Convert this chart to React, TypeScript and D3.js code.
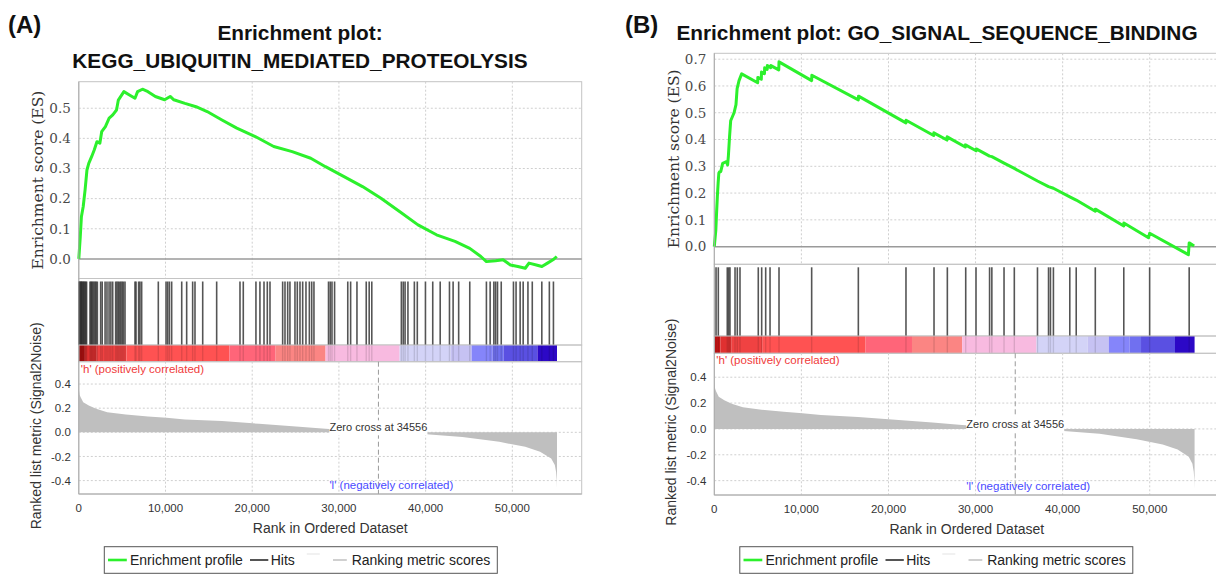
import React from "react";
import * as d3 from "d3";

// ---- shared ranked list (same dataset in both panels) ----
const rankMax = 58000;
const zeroCross = 34556;
const xTicks = [0, 10000, 20000, 30000, 40000, 50000];
const metricTicks = [-0.4, -0.2, 0, 0.2, 0.4];

const metricRanks = [0, 100, 213, 512, 1150, 2000, 3280, 5420, 7980, 10110, 12240, 16510, 20780, 25040, 28450, 31000, 34556, 37000, 40100, 44240, 48500, 51490, 53200, 54480, 54900, 55050, 55120, 55150];
const metricValues = [0.36, 0.31, 0.29, 0.249, 0.222, 0.195, 0.167, 0.148, 0.132, 0.121, 0.107, 0.093, 0.071, 0.049, 0.03, 0.018, 0, -0.008, -0.016, -0.038, -0.079, -0.12, -0.16, -0.216, -0.27, -0.33, -0.39, -0.46];

// colour bar blocks along the ranked list
const colorBreaks = [0, 700, 2000, 5500, 17370, 22700, 28460, 37000, 42880, 45300, 47700, 49000, 52900, 55150];
const colorFills = ["#c41414", "#e03030", "#f04242", "#ff5252", "#ff6579", "#fb8583", "#f8bae0", "#d3d3f7", "#c6c2f3", "#8585fa", "#7070f0", "#5a50e2", "#2c08c6"];

// ---- panel A: KEGG_UBIQUITIN_MEDIATED_PROTEOLYSIS ----
const esTicksA = [0, 0.1, 0.2, 0.3, 0.4, 0.5];
const hitsA = [0, 60, 130, 200, 280, 350, 430, 520, 600, 700, 800, 900, 1290, 1400, 1500, 1620, 1750, 1880, 2000, 2140, 2520, 2700, 3030, 3250, 3490, 3700, 3910, 4250, 4400, 4550, 4700, 4850, 5000, 5150, 5330, 6480, 6600, 6900, 7050, 7250, 9170, 10060, 10250, 10450, 10710, 11870, 12440, 13130, 13400, 14290, 15900, 18590, 18970, 20430, 20890, 21360, 21740, 22050, 23510, 23780, 24090, 24350, 24930, 25200, 25510, 25820, 26200, 26590, 26860, 27120, 28800, 29000, 29200, 29500, 31020, 31350, 32080, 33150, 33490, 33790, 37200, 37420, 37630, 37960, 38700, 39040, 39980, 40820, 41680, 42750, 43170, 43810, 45090, 47010, 47440, 47870, 48070, 48290, 48720, 50130, 50430, 50900, 51250, 51800, 52300, 53400, 54270, 54740];
const esRanksA = [0, 170, 300, 510, 725, 940, 1150, 1490, 1790, 2090, 2430, 2640, 3070, 3500, 3920, 4350, 4560, 5200, 5840, 6480, 6780, 7340, 7980, 8830, 9900, 10540, 10960, 12240, 13520, 14800, 16510, 18220, 20350, 22480, 24610, 26750, 28450, 30590, 32720, 34850, 36990, 39120, 41250, 43390, 45090, 46370, 47010, 48080, 48930, 49780, 50640, 51490, 51920, 52770, 53410, 54050, 54690, 55120];
const esValuesA = [0, 0.074, 0.14, 0.174, 0.229, 0.295, 0.317, 0.34, 0.362, 0.389, 0.384, 0.422, 0.439, 0.467, 0.478, 0.494, 0.527, 0.555, 0.544, 0.533, 0.555, 0.563, 0.555, 0.539, 0.528, 0.539, 0.528, 0.516, 0.505, 0.489, 0.461, 0.434, 0.406, 0.373, 0.356, 0.334, 0.306, 0.273, 0.24, 0.201, 0.157, 0.113, 0.08, 0.058, 0.035, 0.008, -0.009, -0.006, -0.003, -0.02, -0.025, -0.031, -0.014, -0.02, -0.025, -0.014, -0.003, 0.008];

// ---- panel B: GO_SIGNAL_SEQUENCE_BINDING ----
const esTicksB = [0, 0.1, 0.2, 0.3, 0.4, 0.5, 0.6, 0.7];
const hitsB = [200, 460, 1490, 1650, 1800, 2380, 2640, 2950, 5050, 5440, 5900, 6400, 7430, 11180, 16540, 22010, 25230, 26760, 28870, 30050, 31610, 31870, 33270, 34450, 37110, 38380, 38600, 38940, 40820, 41560, 43750, 47020, 49990, 54530];
const esRanksB = [0, 175, 260, 350, 440, 520, 610, 740, 960, 1400, 1530, 1620, 1750, 1880, 2270, 2490, 2620, 2840, 3140, 4980, 5000, 5400, 5420, 5760, 5780, 6070, 6090, 6480, 6500, 7400, 7430, 11180, 11200, 16540, 16560, 22000, 22020, 25190, 25210, 26720, 26740, 28820, 28840, 30060, 30080, 31610, 31870, 33270, 34450, 37110, 38380, 38940, 40820, 41560, 43750, 43760, 47020, 47030, 49860, 49990, 54440, 54530, 55100];
const esValuesB = [0, 0.062, 0.125, 0.187, 0.237, 0.274, 0.28, 0.28, 0.311, 0.318, 0.305, 0.34, 0.41, 0.47, 0.5, 0.53, 0.59, 0.62, 0.645, 0.612, 0.632, 0.625, 0.652, 0.646, 0.668, 0.662, 0.676, 0.668, 0.676, 0.66, 0.69, 0.62, 0.64, 0.548, 0.562, 0.462, 0.472, 0.415, 0.425, 0.398, 0.41, 0.372, 0.38, 0.358, 0.365, 0.338, 0.336, 0.312, 0.292, 0.245, 0.224, 0.218, 0.186, 0.174, 0.132, 0.14, 0.077, 0.088, 0.033, 0.05, -0.03, 0.014, 0.002];

const SANS = "'Liberation Sans', Arial, sans-serif";
const SERIF = "'DejaVu Serif', serif";
const GREEN = "#2cf02c";

type Layout = {
  tag: string;
  tagX: number;
  titleX: number;
  titleLines: string[];
  titleY: number[];
  left: number;
  right: number;
  esTop: number;
  esBottom: number;
  hitsBottom: number;
  barBottom: number;
  rankBottom: number;
  esDomain: [number, number];
  esTicks: number[];
  hits: number[];
  esRanks: number[];
  esValues: number[];
};

function Panel({ p }: { p: Layout }) {
  const x = d3.scaleLinear().domain([0, rankMax]).range([p.left, p.right]);
  const yEs = d3.scaleLinear().domain(p.esDomain).range([p.esBottom, p.esTop]);
  const yM = d3.scaleLinear().domain([-0.511, 0.585]).range([p.rankBottom, p.barBottom]);
  const w = p.right - p.left;

  const esLine = d3
    .line<number>()
    .x((_, i) => x(p.esRanks[i]))
    .y((v) => yEs(v));

  const metricArea = d3
    .area<number>()
    .x((_, i) => x(metricRanks[i]))
    .y0(yM(0))
    .y1((v) => yM(v));

  const zx = x(zeroCross);
  const zeroLabelW = 98;
  const grid = "#cfcfcf";
  const border = "#c4c4c4";

  return (
    <g>
      <text x={p.tagX} y={33} fontFamily={SANS} fontWeight="bold" fontSize={24} fill="#111">
        {p.tag}
      </text>
      {p.titleLines.map((t, i) => (
        <text key={t} x={p.titleX} y={p.titleY[i]} textAnchor="middle" fontFamily={SANS} fontWeight="bold" fontSize={20.8} fill="#111">
          {t}
        </text>
      ))}

      {/* enrichment score panel */}
      <rect x={p.left} y={p.esTop} width={w} height={p.esBottom - p.esTop} fill="#fff" stroke={border} />
      {xTicks.slice(1).map((t) => (
        <line key={"gx" + t} x1={x(t)} x2={x(t)} y1={p.esTop} y2={p.esBottom} stroke={grid} strokeDasharray="2,2" />
      ))}
      {p.esTicks.slice(1).map((t) => (
        <line key={"gy" + t} x1={p.left} x2={p.right} y1={yEs(t)} y2={yEs(t)} stroke={grid} strokeDasharray="2,2" />
      ))}
      <line x1={p.left} x2={p.right} y1={yEs(0)} y2={yEs(0)} stroke="#9a9a9a" strokeWidth={1.5} />
      {p.esTicks.map((t) => (
        <text key={"ty" + t} x={p.left - 8} y={yEs(t)} dy="0.36em" textAnchor="end" fontFamily={SERIF} fontSize={13.5} fill="#4a4a4a">
          {t.toFixed(1)}
        </text>
      ))}
      <text
        transform={`translate(${p.left - 41},${(p.esTop + p.esBottom) / 2}) rotate(-90)`}
        textAnchor="middle"
        dy="0.35em"
        fontFamily={SERIF}
        fontSize={15.5}
        fill="#333"
      >
        Enrichment score (ES)
      </text>
      <path d={esLine(p.esValues) || ""} fill="none" stroke={GREEN} strokeWidth={3} strokeLinejoin="round" />

      {/* hits panel */}
      <rect x={p.left} y={p.esBottom} width={w} height={p.hitsBottom - p.esBottom} fill="none" stroke={border} />
      {p.hits.map((h, i) => (
        <line key={"h" + i} x1={x(h)} x2={x(h)} y1={p.esBottom + 3} y2={p.hitsBottom} stroke="#2a2a2a" strokeWidth={1.6} strokeOpacity={0.8} />
      ))}

      {/* colour bar */}
      {colorFills.map((c, i) => (
        <rect key={"c" + i} x={x(colorBreaks[i])} y={p.hitsBottom} width={x(colorBreaks[i + 1]) - x(colorBreaks[i])} height={p.barBottom - p.hitsBottom} fill={c} />
      ))}
      {p.hits.map((h, i) => (
        <line key={"hb" + i} x1={x(h)} x2={x(h)} y1={p.hitsBottom} y2={p.barBottom} stroke="#000" strokeWidth={1.4} strokeOpacity={0.12} />
      ))}
      <rect x={p.left} y={p.hitsBottom} width={w} height={p.barBottom - p.hitsBottom} fill="none" stroke={border} />

      {/* ranked list metric panel */}
      <rect x={p.left} y={p.barBottom} width={w} height={p.rankBottom - p.barBottom} fill="none" stroke={border} />
      {xTicks.slice(1).map((t) => (
        <line key={"mgx" + t} x1={x(t)} x2={x(t)} y1={p.barBottom} y2={p.rankBottom} stroke={grid} strokeDasharray="2,2" />
      ))}
      {metricTicks.map((t) => (
        <line key={"mgy" + t} x1={p.left} x2={p.right} y1={yM(t)} y2={yM(t)} stroke={grid} strokeDasharray="2,2" />
      ))}
      <path d={metricArea(metricValues) || ""} fill="#bfbfbf" />
      <line x1={zx} x2={zx} y1={p.barBottom} y2={p.rankBottom} stroke="#9a9a9a" strokeDasharray="5,3" />
      <rect x={zx - zeroLabelW / 2} y={yM(0) - 12} width={zeroLabelW} height={15} fill="#fff" />
      <text x={zx} y={yM(0) - 1} textAnchor="middle" fontFamily={SANS} fontSize={11} fill="#333">
        Zero cross at {zeroCross}
      </text>
      <text x={p.left + 2} y={p.barBottom + 11} fontFamily={SANS} fontSize={11.5} fill="#f03a3a">
        'h' (positively correlated)
      </text>
      <text x={zx - zeroLabelW / 2} y={yM(-0.44) + 4} fontFamily={SANS} fontSize={11.5} fill="#4a4aff">
        'l' (negatively correlated)
      </text>
      {metricTicks.map((t) => (
        <text key={"mt" + t} x={p.left - 8} y={yM(t)} dy="0.36em" textAnchor="end" fontFamily={SANS} fontSize={11.5} fill="#333">
          {t.toFixed(1)}
        </text>
      ))}
      <text
        transform={`translate(${p.left - 43},${(p.barBottom + p.rankBottom) / 2 - 2}) rotate(-90)`}
        textAnchor="middle"
        dy="0.35em"
        fontFamily={SANS}
        fontSize={14}
        fill="#333"
      >
        Ranked list metric (Signal2Noise)
      </text>
      <line x1={p.left} x2={p.left} y1={p.esTop} y2={p.rankBottom} stroke="#aaa" />
      <line x1={p.left} x2={p.right} y1={p.rankBottom} y2={p.rankBottom} stroke="#aaa" />

      {xTicks.map((t) => (
        <text key={"tx" + t} x={x(t)} y={p.rankBottom + 17.5} textAnchor="middle" fontFamily={SANS} fontSize={11.5} fill="#333">
          {d3.format(",")(t)}
        </text>
      ))}
      <text x={p.left + w / 2} y={p.rankBottom + 39} textAnchor="middle" fontFamily={SANS} fontSize={14} fill="#333">
        Rank in Ordered Dataset
      </text>

      {/* legend */}
      <rect x={p.left + 25.5} y={546.7} width={393} height={26.6} fill="#fff" stroke="#555" />
      <line x1={p.left + 29.2} x2={p.left + 48} y1={560} y2={560} stroke={GREEN} strokeWidth={2.6} />
      <text x={p.left + 51.2} y={565} fontFamily={SANS} fontSize={14} fill="#222">
        Enrichment profile
      </text>
      <line x1={p.left + 171.2} x2={p.left + 189.5} y1={560} y2={560} stroke="#555" strokeWidth={2} />
      <text x={p.left + 191.9} y={565} fontFamily={SANS} fontSize={14} fill="#222">
        Hits
      </text>
      <line x1={p.left + 228} x2={p.left + 241} y1={554} y2={554} stroke="#ececec" strokeWidth={1.5} />
      <line x1={p.left + 254.2} x2={p.left + 268} y1={560} y2={560} stroke="#d0d0d0" strokeWidth={2} />
      <text x={p.left + 272.9} y={565} fontFamily={SANS} fontSize={14} fill="#222">
        Ranking metric scores
      </text>
    </g>
  );
}

const panelA: Layout = {
  tag: "(A)",
  tagX: 8,
  titleX: 300,
  titleLines: ["Enrichment plot:", "KEGG_UBIQUITIN_MEDIATED_PROTEOLYSIS"],
  titleY: [39.5, 68],
  left: 78.8,
  right: 581.7,
  esTop: 81.7,
  esBottom: 278.5,
  hitsBottom: 345,
  barBottom: 361.7,
  rankBottom: 494,
  esDomain: [-0.065, 0.588],
  esTicks: esTicksA,
  hits: hitsA,
  esRanks: esRanksA,
  esValues: esValuesA,
};

const panelB: Layout = {
  tag: "(B)",
  tagX: 625,
  titleX: 937,
  titleLines: ["Enrichment plot: GO_SIGNAL_SEQUENCE_BINDING"],
  titleY: [39.5],
  left: 714.3,
  right: 1219.4,
  esTop: 53.3,
  esBottom: 264.3,
  hitsBottom: 336,
  barBottom: 353.3,
  rankBottom: 495,
  esDomain: [-0.066, 0.722],
  esTicks: esTicksB,
  hits: hitsB,
  esRanks: esRanksB,
  esValues: esValuesB,
};

export default function App() {
  return (
    <svg width={1216} height={574} style={{ position: "absolute", left: 0, top: 0, background: "#fff" }}>
      <rect width={1216} height={574} fill="#fff" />
      <Panel p={panelA} />
      <Panel p={panelB} />
    </svg>
  );
}
